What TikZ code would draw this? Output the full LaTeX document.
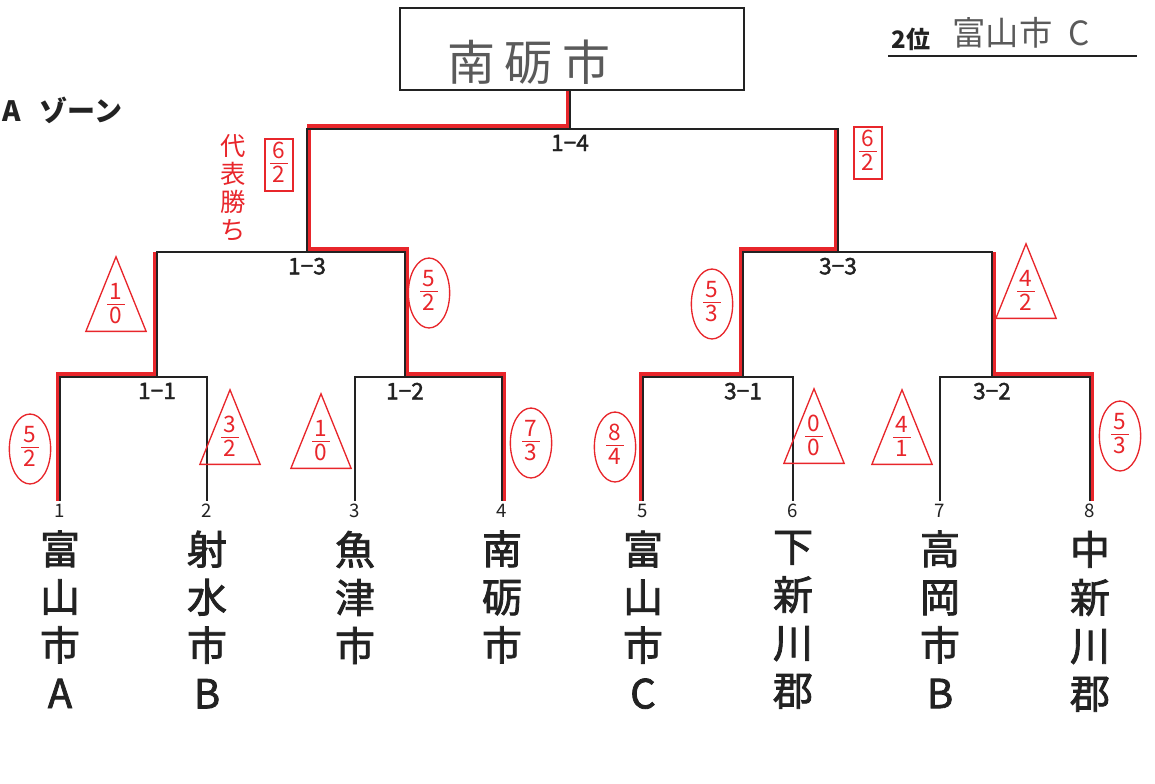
\documentclass[tikz,border=0pt]{standalone}
\usepackage{fontspec}
\usetikzlibrary{positioning,shapes.geometric}
\newfontfamily\jp{Noto Sans CJK JP}
\newfontfamily\jpmid{Noto Sans CJK JP}[FakeBold=2]
\definecolor{pen}{HTML}{E8262B}
\definecolor{ink}{HTML}{222222}
\definecolor{pencil}{HTML}{5A5A5A}
\newcommand{\tally}[2]{\begin{tabular}{@{\hspace{2pt}}c@{\hspace{2pt}}}#1\\[-2pt]\hline\rule{0pt}{14pt}#2\end{tabular}}
\tikzset{every picture/.style={line width=0.75pt}}
\tikzset{
  bracket/.style={draw=ink, line width=1.6pt},
  winline/.style={draw=pen, line width=3.4pt},
  matchno/.style={font=\jpmid\fontsize{17}{19}\selectfont, text=ink, inner sep=0pt},
  seedno/.style={font=\jp\fontsize{14}{16}\selectfont, text=ink, inner sep=0pt},
  team/.style={font=\jpmid\fontsize{30}{36}\selectfont, text=ink, align=center, inner sep=0pt},
  ring/.style={ellipse, draw=pen, text=pen, line width=1pt, inner sep=0pt, minimum width=31pt, minimum height=44pt, font=\jp\fontsize{17}{19}\selectfont},
  tri/.style={isosceles triangle, isosceles triangle apex angle=44, shape border rotate=90, draw=pen, text=pen, line width=1pt, inner sep=0.5pt, font=\jp\fontsize{17}{19}\selectfont},
  scorebox/.style={rectangle, draw=pen, text=pen, line width=1pt, inner sep=1pt, minimum width=21pt, minimum height=38pt, font=\jp\fontsize{17}{19}\selectfont},
}
\begin{document}
\begin{tikzpicture}[x=0.75pt,y=0.75pt,yscale=-1,xscale=1]
\useasboundingbox (0,0) rectangle (1155,783);

% champion box
\node[draw=ink, line width=1.8pt, minimum width=258pt, minimum height=61.5pt, inner sep=0pt] (champ) at (572,49) {};
\node[font=\jp\fontsize{36}{38}\selectfont, text=pencil, inner sep=0pt] (champname) at (529,62) {南\hspace{7pt}砺\hspace{7pt}市};

% headings
\node[font=\jp\bfseries\fontsize{21}{23}\selectfont, text=ink, anchor=east, inner sep=0pt] (zone) at (123,110) {A\hspace{14pt}ゾーン};
\node[font=\jp\bfseries\fontsize{18}{20}\selectfont, text=ink, anchor=south west, inner sep=0pt] (rank) at (891,51) {2位};
\node[font=\jp\fontsize{25}{27}\selectfont, text=pencil, inner sep=0pt] (second) at (1021,33) {富山市\hspace{12pt}C};
\draw[draw=ink, line width=1.8pt] (888,56) -- (1137,56);

% leaves
\foreach \i/\x/\name in {1/60/{富\\山\\市\\A}, 2/207/{射\\水\\市\\B}, 3/355/{魚\\津\\市}, 4/502/{南\\砺\\市},
                         5/643/{富\\山\\市\\C}, 6/793/{下\\新\\川\\郡}, 7/940/{高\\岡\\市\\B}, 8/1090/{中\\新\\川\\郡}}{
  \coordinate (l\i) at (\x,501);
  \node[seedno, below=2pt of l\i] (n\i) {\i};
  \node[team, below=9pt of n\i] (t\i) {\name};
}

% junctions
\coordinate (j11) at (157,377);
\coordinate (j12) at (405,377);
\coordinate (j31) at (743,377);
\coordinate (j32) at (992,377);
\coordinate (j13) at (307,252);
\coordinate (j33) at (838,252);
\coordinate (j14) at (570,129);

% winners
\draw[winline] ([shift={(2,0)}]l4) |- ([shift={(2,-3)}]j12) |- ([shift={(2,-3)}]j13) |- ([shift={(-2,-3)}]j14) -- ([shift={(-2,0)}]j14 |- champ.south);
\draw[winline] ([shift={(-2,0)}]l1) |- ([shift={(-2,-3)}]j11) -- ([shift={(-2,0)}]j11 |- j13);
\draw[winline] ([shift={(-2,0)}]l5) |- ([shift={(-2,-3)}]j31) |- ([shift={(-2,-3)}]j33) -- ([shift={(-2,0)}]j33 |- j14);
\draw[winline] ([shift={(2,0)}]l8) |- ([shift={(2,-3)}]j32) -- ([shift={(2,0)}]j32 |- j33);

% bracket
\draw[bracket] (l1) |- (j11) -| (l2);
\draw[bracket] (l3) |- (j12) -| (l4);
\draw[bracket] (l5) |- (j31) -| (l6);
\draw[bracket] (l7) |- (j32) -| (l8);
\draw[bracket] (j11) |- (j13) -| (j12);
\draw[bracket] (j31) |- (j33) -| (j32);
\draw[bracket] (j13) |- (j14) -| (j33);
\draw[bracket] (j14) -- (j14 |- champ.south);

% match numbers
\foreach \j/\m in {j11/1−1, j12/1−2, j31/3−1, j32/3−2, j13/1−3, j33/3−3, j14/1−4}{
  \node[matchno, below=4pt of \j] (m\j) {\m};
}

% scores
\node[scorebox] (s14a) at (279,165) {\tally{6}{2}};
\node[scorebox] (s14b) at (868,153) {\tally{6}{2}};
\node[font=\jp\fontsize{19}{21}\selectfont, text=pen, align=center, inner sep=0pt] (rep) at (233,188) {代\\表\\勝\\ち};
\node[tri] (s13a) at (116,306) {\tally{1}{0}};
\node[ring] (s13b) at (429,293) {\tally{5}{2}};
\node[ring] (s33a) at (712,304) {\tally{5}{3}};
\node[tri] (s33b) at (1026,293) {\tally{4}{2}};
\node[ring] (s11a) at (30,449) {\tally{5}{2}};
\node[tri] (s11b) at (230,439) {\tally{3}{2}};
\node[tri] (s12a) at (321,443) {\tally{1}{0}};
\node[ring] (s12b) at (531,443) {\tally{7}{3}};
\node[ring] (s31a) at (615,447) {\tally{8}{4}};
\node[tri] (s31b) at (814,438) {\tally{0}{0}};
\node[tri] (s32a) at (902,439) {\tally{4}{1}};
\node[ring] (s32b) at (1120,436) {\tally{5}{3}};

\end{tikzpicture}
\end{document}
